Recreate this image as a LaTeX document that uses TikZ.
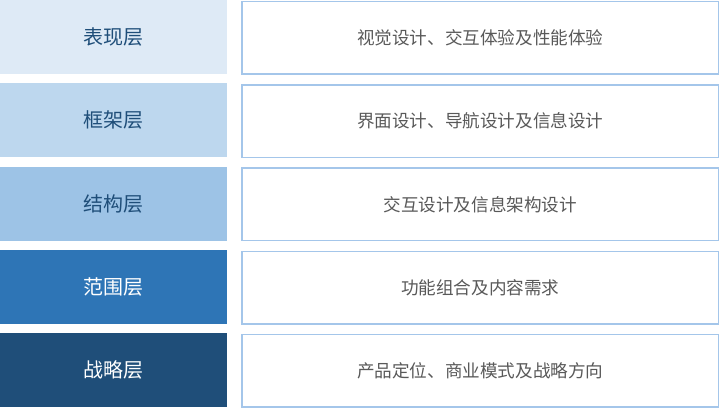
\documentclass[tikz,border=0pt]{standalone}
\usepackage{fontspec}
\setmainfont{Noto Sans CJK SC}
\definecolor{c1}{HTML}{DEEAF6}
\definecolor{c2}{HTML}{BDD7EE}
\definecolor{c3}{HTML}{9DC3E6}
\definecolor{c4}{HTML}{2E75B6}
\definecolor{c5}{HTML}{1F4E79}
\definecolor{darktxt}{HTML}{1F4E79}
\definecolor{graytxt}{HTML}{595959}
\definecolor{edgeblue}{HTML}{A4C6EA}
\tikzset{
  layer/.style={minimum width=227pt,minimum height=74pt,inner sep=0pt,anchor=north west,font=\fontsize{20}{20}\selectfont},
  desc/.style={draw=edgeblue,line width=1.5pt,fill=white,minimum width=476.5pt,minimum height=72.5pt,inner sep=0pt,anchor=north west,text=graytxt,font=\fontsize{17.6}{17.6}\selectfont}
}
\begin{document}
\begin{tikzpicture}[x=1pt,y=-1pt]
\useasboundingbox (0,0) rectangle (720,407);
\node[layer,fill=c1,text=darktxt] (l1) at (0,0) {表现层};
\node[desc] (d1) at (241.25,0.75) {视觉设计、交互体验及性能体验};
\node[layer,fill=c2,text=darktxt] (l2) at (0,83.25) {框架层};
\node[desc] (d2) at (241.25,84) {界面设计、导航设计及信息设计};
\node[layer,fill=c3,text=darktxt] (l3) at (0,166.5) {结构层};
\node[desc] (d3) at (241.25,167.25) {交互设计及信息架构设计};
\node[layer,fill=c4,text=white] (l4) at (0,249.75) {范围层};
\node[desc] (d4) at (241.25,250.5) {功能组合及内容需求};
\node[layer,fill=c5,text=white] (l5) at (0,333) {战略层};
\node[desc] (d5) at (241.25,333.75) {产品定位、商业模式及战略方向};
\end{tikzpicture}
\end{document}
